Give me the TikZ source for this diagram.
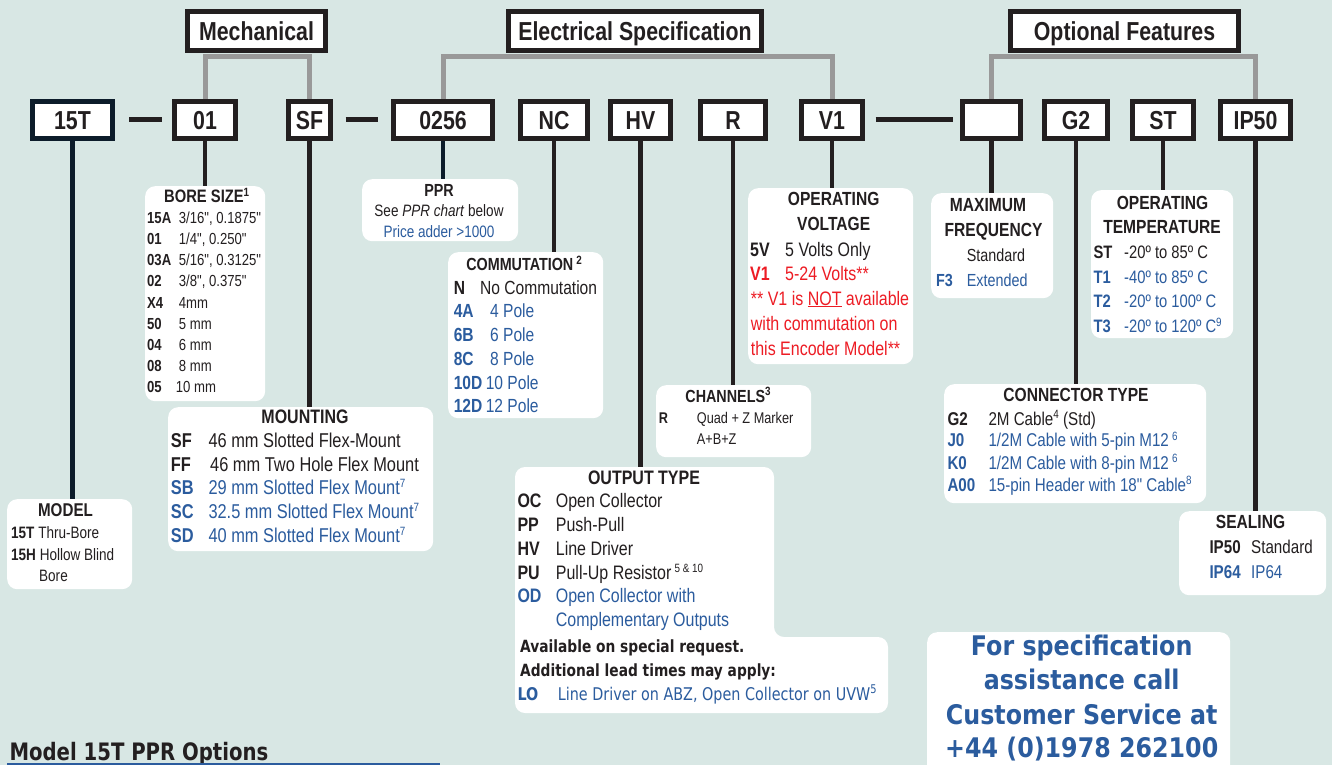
\documentclass[tikz,border=0pt]{standalone}
\usepackage{fontspec}
\setmainfont{Liberation Sans}[FakeStretch=0.82, Ligatures=TeXOff]
\newfontfamily\tahoma{DejaVu Sans}[FakeStretch=0.82]
\newfontfamily\tahomawide{DejaVu Sans}[FakeStretch=0.88]
\newcommand{\fs}[1]{\fontsize{#1}{#1}\selectfont}
\newcommand{\sups}[1]{\raisebox{6.5pt}{\fs{12}#1}}
\newcommand{\code}[2]{\makebox[#1pt][l]{\bfseries #2}}
\definecolor{bgteal}{RGB}{216,231,228}
\definecolor{ink}{RGB}{35,31,32}
\definecolor{specblue}{RGB}{43,92,158}
\definecolor{specred}{RGB}{237,28,36}
\definecolor{bargray}{RGB}{153,153,153}
\definecolor{navy}{RGB}{12,28,42}
\pgfdeclarelayer{bg}
\pgfdeclarelayer{wires}
\pgfsetlayers{bg,wires,main}
\begin{document}
\begin{tikzpicture}[x=1pt, y=-1pt,
        codebox/.style={draw=ink, line width=5pt, fill=white, inner sep=0pt, minimum height=37pt,
            font=\fs{26}\bfseries, text=ink, text height=18.6pt, text depth=0pt},
        groupbox/.style={codebox, minimum height=39pt},
        infobox/.style={fill=white, rounded corners=10pt, inner sep=0pt, anchor=north west},
        wire/.style={line width=4.5pt, draw=ink},
        gapline/.style={line width=5pt, draw=ink},
        bar/.style={line width=5pt, draw=bargray},
        txt/.style={inner sep=0pt, anchor=base west, text=ink},
        head/.style={inner sep=0pt, anchor=base, text=ink, font=\fs{19}\bfseries}]
            \useasboundingbox (0,0) rectangle (1332,765);
            \begin{pgfonlayer}{bg}
                \fill[bgteal] (0,0) rectangle (1332,765);
            \end{pgfonlayer}

            \node[groupbox, minimum width=138pt] (gMech) at (256.5,31) {Mechanical};
            \node[groupbox, minimum width=253pt] (gElec) at (635,31) {Electrical Specification};
            \node[groupbox, minimum width=228pt] (gOpt) at (1124.5,31) {Optional Features};
            \coordinate (barline) at (0,56.5);

            \node[codebox, draw=navy, minimum width=80pt] (t15T) at (72.5,120) {15T};
            \node[codebox, minimum width=61pt] (t01) at (205,120) {01};
            \node[codebox, minimum width=42pt] (tSF) at (309.5,120) {SF};
            \node[codebox, minimum width=99pt] (t0256) at (443,120) {0256};
            \node[codebox, minimum width=67pt] (tNC) at (554,120) {NC};
            \node[codebox, minimum width=60pt] (tHV) at (640.5,120) {HV};
            \node[codebox, minimum width=65pt] (tR) at (733,120) {R};
            \node[codebox, minimum width=61pt] (tV1) at (832,120) {V1};
            \node[codebox, minimum width=58pt] (tFQ) at (991.5,120) {};
            \node[codebox, minimum width=63pt] (tG2) at (1076,120) {G2};
            \node[codebox, minimum width=61pt] (tST) at (1163,120) {ST};
            \node[codebox, minimum width=70pt] (tIP) at (1255.5,120) {IP50};

            \node[infobox, minimum width=125pt, minimum height=90pt] (model) at (7,499) {};
            \node[infobox, minimum width=120pt, minimum height=215pt] (bore) at (145,186) {};
            \node[infobox, minimum width=156pt, minimum height=62pt] (ppr) at (362,179) {};
            \node[infobox, minimum width=155pt, minimum height=166pt] (comm) at (448,252) {};
            \node[infobox, minimum width=155pt, minimum height=72pt] (chan) at (656,385) {};
            \node[infobox, minimum width=265pt, minimum height=144pt] (mount) at (168,407) {};
            \node[infobox, minimum width=165pt, minimum height=176pt] (volt) at (748,188) {};
            \node[infobox, minimum width=122pt, minimum height=105pt] (freq) at (931,193) {};
            \node[infobox, minimum width=142pt, minimum height=148pt] (temp) at (1091,190) {};
            \node[infobox, minimum width=262pt, minimum height=119pt] (conn) at (944,384) {};
            \node[infobox, minimum width=147pt, minimum height=84pt] (seal) at (1179,511) {};
            \node[infobox, minimum width=303pt, minimum height=150pt] (help) at (927,632) {};
            \fill[white, rounded corners=10pt] (515,467) -- (774,467) -- (774,637) -- (888,637)
                -- (888,713) -- (515,713) -- cycle;
            \coordinate (outtop) at (640.5,467);

            \begin{pgfonlayer}{wires}
                \draw[bar] (t01.north) -- (t01.north |- barline) -- (tSF.north |- barline) -- (tSF.north);
                \draw[bar] (t0256.north) -- (t0256.north |- barline) -- (tV1.north |- barline) -- (tV1.north);
                \draw[bar] (tFQ.north) -- (tFQ.north |- barline) -- (tIP.north |- barline) -- (tIP.north);

                \draw[gapline, shorten <=14pt, shorten >=10pt] (t15T.east) -- (t01.west);
                \draw[gapline, shorten <=12.5pt, shorten >=13.5pt] (tSF.east) -- (t0256.west);
                \draw[gapline, shorten <=10.5pt, shorten >=7.5pt] (tV1.east) -- (tFQ.west);

                \draw[wire, draw=navy] (t15T.south) -- (t15T.south |- model.north);
                \draw[wire] (t01.south) -- (t01.south |- bore.north);
                \draw[wire] (tSF.south) -- (tSF.south |- mount.north);
                \draw[wire, draw=navy] (t0256.south) -- (t0256.south |- ppr.north);
                \draw[wire] (tNC.south) -- (tNC.south |- comm.north);
                \draw[wire] (tHV.south) -- (outtop);
                \draw[wire] (tR.south) -- (tR.south |- chan.north);
                \draw[wire] (tV1.south) -- (tV1.south |- volt.north);
                \draw[wire] (tFQ.south) -- (tFQ.south |- freq.north);
                \draw[wire] (tG2.south) -- (tG2.south |- conn.north);
                \draw[wire] (tST.south) -- (tST.south |- temp.north);
                \draw[wire] (tIP.south) -- (tIP.south |- seal.north);
            \end{pgfonlayer}

            % model
            \node[head, font=\fs{18.5}\bfseries] (modelH) at (65.5,516.7) {MODEL};
            \node[txt, font=\fs{16.5}] (model1) at (11,538.3) {\textbf{15T} Thru-Bore};
            \node[txt, font=\fs{16.5}] (model2) at (11,560) {\textbf{15H} Hollow Blind};
            \node[txt, font=\fs{16.5}] (model3) at (39,581.7) {Bore};

            % bore size
            \node[head, font=\fs{18}\bfseries] (boreH) at (206.7,202.7) {BORE SIZE\sups{1}};
            \node[txt, font=\fs{16}] (bore1) at (147,223.3) {\code{31.7}{15A}3/16", 0.1875"};
            \node[txt, font=\fs{16}] (bore2) at (147,244.5) {\code{31.7}{01}1/4", 0.250"};
            \node[txt, font=\fs{16}] (bore3) at (147,265.7) {\code{31.7}{03A}5/16", 0.3125"};
            \node[txt, font=\fs{16}] (bore4) at (147,286.9) {\code{31.7}{02}3/8", 0.375"};
            \node[txt, font=\fs{16}] (bore5) at (147,308.1) {\code{31.7}{X4}4mm};
            \node[txt, font=\fs{16}] (bore6) at (147,329.3) {\code{31.7}{50}5 mm};
            \node[txt, font=\fs{16}] (bore7) at (147,350.5) {\code{31.7}{04}6 mm};
            \node[txt, font=\fs{16}] (bore8) at (147,371.7) {\code{31.7}{08}8 mm};
            \node[txt, font=\fs{16}] (bore9) at (147,392.9) {\code{28.7}{05}10 mm};

            % ppr
            \node[head, font=\fs{17.5}\bfseries] (pprH) at (439,196.7) {PPR};
            \node[head, font=\fs{16.5}] (ppr1) at (439,216.5) {See \textit{PPR chart} below};
            \node[head, font=\fs{16.5}, text=specblue] (ppr2) at (439,237.7) {Price adder >1000};

            % commutation
            \node[head, font=\fs{17.5}\bfseries] (commH) at (524,270.7) {COMMUTATION\,\sups{2}};
            \node[txt, font=\fs{19}] (comm1) at (453.6,294) {\code{26.4}{N}No Commutation};
            \node[txt, font=\fs{19}, text=specblue] (comm2) at (453.6,317.3) {\code{36.4}{4A}4 Pole};
            \node[txt, font=\fs{19}, text=specblue] (comm3) at (453.6,341.7) {\code{36.4}{6B}6 Pole};
            \node[txt, font=\fs{19}, text=specblue] (comm4) at (453.6,365) {\code{36.4}{8C}8 Pole};
            \node[txt, font=\fs{19}, text=specblue] (comm5) at (453.6,389) {\code{32}{10D}10 Pole};
            \node[txt, font=\fs{19}, text=specblue] (comm6) at (453.6,412.7) {\code{32}{12D}12 Pole};

            % channels
            \node[head, font=\fs{17.5}\bfseries] (chanH) at (728,402.3) {CHANNELS\sups{3}};
            \node[txt, font=\fs{15.5}] (chan1) at (658.7,423.3) {\code{38}{R}Quad + Z Marker};
            \node[txt, font=\fs{15.5}] (chan2) at (696.7,444) {A+B+Z};

            % output type
            \node[head, font=\fs{19.5}\bfseries] (outH) at (644,484.3) {OUTPUT TYPE};
            \node[txt, font=\fs{19.5}] (out1) at (517.3,507.3) {\code{38.4}{OC}Open Collector};
            \node[txt, font=\fs{19.5}] (out2) at (517.3,531) {\code{38.4}{PP}Push-Pull};
            \node[txt, font=\fs{19.5}] (out3) at (517.3,555) {\code{38.4}{HV}Line Driver};
            \node[txt, font=\fs{19.5}] (out4) at (517.3,579) {\code{38.4}{PU}Pull-Up Resistor\,\sups{5 \& 10}};
            \node[txt, font=\fs{19.5}, text=specblue] (out5) at (517.3,602.3) {\code{38.4}{OD}Open Collector with};
            \node[txt, font=\fs{19.5}, text=specblue] (out6) at (555.7,626) {Complementary Outputs};
            \node[txt, font=\tahoma\fs{16.8}\bfseries] (out7) at (520,652.7) {Available on special request.};
            \node[txt, font=\tahoma\fs{16.8}\bfseries] (out8) at (520,676) {Additional lead times may apply:};
            \node[txt, font=\tahoma\fs{17.5}, text=specblue] (out9) at (517.3,700) {\code{40.4}{LO}Line Driver on ABZ, Open Collector on UVW\sups{5}};

            % mounting
            \node[head, font=\fs{19.5}\bfseries] (mountH) at (305,423.3) {MOUNTING};
            \node[txt, font=\fs{20}] (mount1) at (170.7,447.7) {\code{37.6}{SF}46 mm Slotted Flex-Mount};
            \node[txt, font=\fs{20}] (mount2) at (170.7,471) {\code{39.3}{FF}46 mm Two Hole Flex Mount};
            \node[txt, font=\fs{20}, text=specblue] (mount3) at (170.7,494.3) {\code{37.6}{SB}29 mm Slotted Flex Mount\sups{7}};
            \node[txt, font=\fs{20}, text=specblue] (mount4) at (170.7,518.3) {\code{37.6}{SC}32.5 mm Slotted Flex Mount\sups{7}};
            \node[txt, font=\fs{20}, text=specblue] (mount5) at (170.7,542.3) {\code{37.6}{SD}40 mm Slotted Flex Mount\sups{7}};

            % operating voltage
            \node[head] (voltH1) at (833.7,205) {OPERATING};
            \node[head] (voltH2) at (833.7,230) {VOLTAGE};
            \node[txt, font=\fs{19.5}] (volt1) at (750,256) {\code{35}{5V}5 Volts Only};
            \node[txt, font=\fs{19.5}, text=specred] (volt2) at (750,280.7) {\code{35}{V1}5-24 Volts**};
            \node[txt, font=\fs{19.5}, text=specred] (volt3) at (750.7,305) {** V1 is \underline{NOT} available};
            \node[txt, font=\fs{19.5}, text=specred] (volt4) at (750.7,330.7) {with commutation on};
            \node[txt, font=\fs{19.5}, text=specred] (volt5) at (750.7,355) {this Encoder Model**};

            % maximum frequency
            \node[head] (freqH1) at (988,211.7) {MAXIMUM};
            \node[head] (freqH2) at (993.5,236.7) {FREQUENCY};
            \node[txt, font=\fs{17.5}] (freq1) at (966.7,261.7) {Standard};
            \node[txt, font=\fs{17.5}, text=specblue] (freq2) at (936,286.7) {\code{30.7}{F3}Extended};

            % operating temperature
            \node[head] (tempH1) at (1162.5,209.3) {OPERATING};
            \node[head] (tempH2) at (1162,233.3) {TEMPERATURE};
            \node[txt, font=\fs{18}] (temp1) at (1093.3,258.3) {\code{30.7}{ST}-20º to 85º C};
            \node[txt, font=\fs{18}, text=specblue] (temp2) at (1093.3,283.3) {\code{30.7}{T1}-40º to 85º C};
            \node[txt, font=\fs{18}, text=specblue] (temp3) at (1093.3,307.7) {\code{30.7}{T2}-20º to 100º C};
            \node[txt, font=\fs{18}, text=specblue] (temp4) at (1093.3,332.7) {\code{30.7}{T3}-20º to 120º C\sups{9}};

            % connector type
            \node[head] (connH) at (1076,401.7) {CONNECTOR TYPE};
            \node[txt, font=\fs{18.5}] (conn1) at (947.3,425) {\code{41}{G2}2M Cable\sups{4} (Std)};
            \node[txt, font=\fs{18.5}, text=specblue] (conn2) at (947.3,446.7) {\code{41}{J0}1/2M Cable with 5-pin M12\,\sups{6}};
            \node[txt, font=\fs{18.5}, text=specblue] (conn3) at (947.3,469) {\code{41}{K0}1/2M Cable with 8-pin M12\,\sups{6}};
            \node[txt, font=\fs{18.5}, text=specblue] (conn4) at (947.3,491) {\code{41}{A00}15-pin Header with 18" Cable\sups{8}};

            % sealing
            \node[head] (sealH) at (1250.5,528.3) {SEALING};
            \node[txt, font=\fs{18.5}] (seal1) at (1209.3,553.3) {\code{41.7}{IP50}Standard};
            \node[txt, font=\fs{18.5}, text=specblue] (seal2) at (1209.3,578.3) {\code{41.7}{IP64}IP64};

            % assistance
            \node[head, font=\tahomawide\fs{27}\bfseries, text=specblue] (help1) at (1081.7,655) {For specification};
            \node[head, font=\tahomawide\fs{27}\bfseries, text=specblue] (help2) at (1081.7,689.3) {assistance call};
            \node[head, font=\tahomawide\fs{27}\bfseries, text=specblue] (help3) at (1081.7,724.3) {Customer Service at};
            \node[head, font=\tahomawide\fs{27}\bfseries, text=specblue] (help4) at (1081.7,757.7) {+44 (0)1978 262100};

            \node[txt, font=\tahoma\fs{24}\bfseries] (pprtitle) at (9.3,760) {Model 15T PPR Options};
            \draw[specblue, line width=1.5pt] (7,764) -- (440,764);
        \end{tikzpicture}
\end{document}
